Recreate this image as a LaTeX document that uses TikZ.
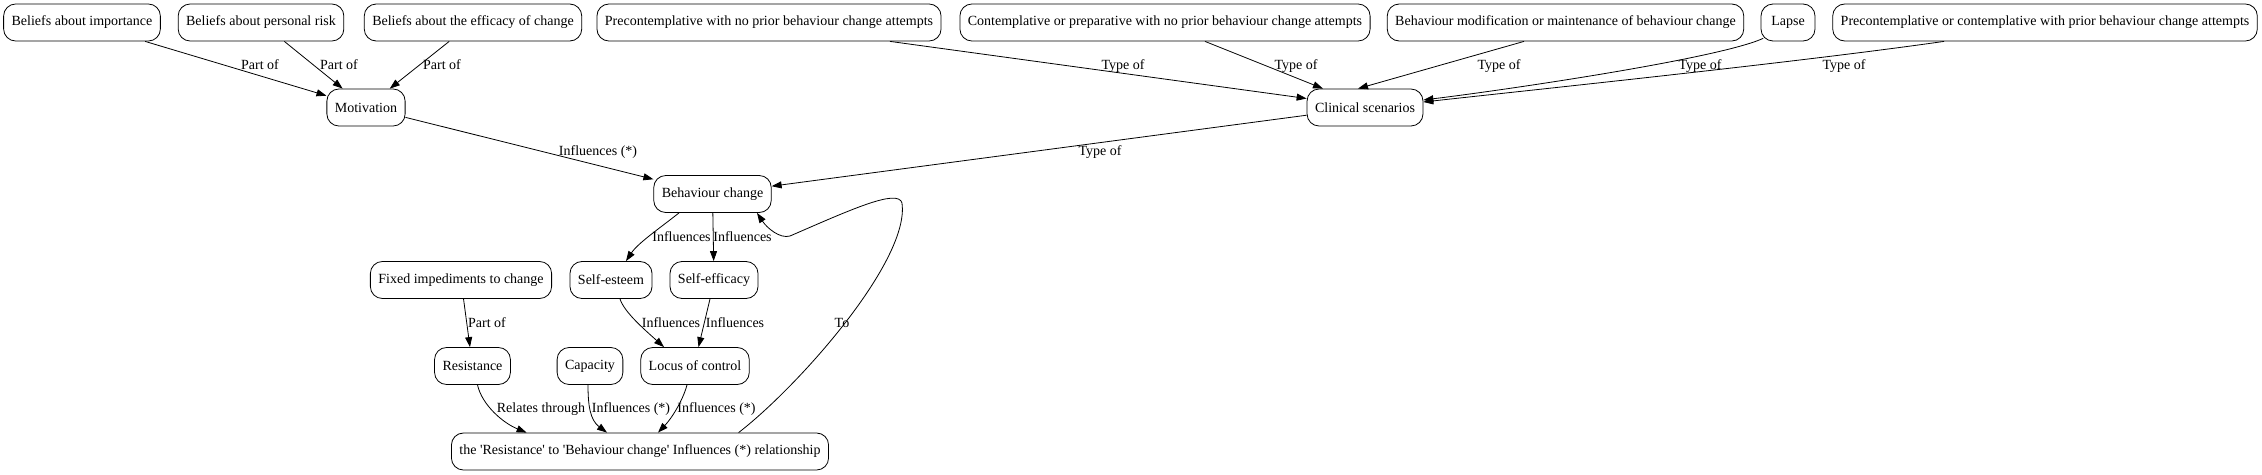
\documentclass[tikz,border=0pt]{standalone}
\usepackage{fontspec}
\setmainfont{Liberation Serif}[Ligatures=TeXOff]
\usetikzlibrary{arrows.meta}
\tikzset{
  box/.style={draw, rounded corners=12pt, minimum height=37pt, minimum width=54pt,
    inner xsep=8pt, inner ysep=0pt, font=\fontsize{14}{16}\selectfont, line width=0.8pt},
  lbl/.style={inner sep=0pt, font=\fontsize{14}{16}\selectfont},
  edge/.style={-{Triangle[length=10pt,width=7pt]}, line width=0.8pt}
}
\begin{document}
\begin{tikzpicture}[x=1pt,y=-1pt]
\useasboundingbox (0,0) rectangle (2262,474);
% row 1
\node[box] (imp)  at (82,22.5)   {Beliefs about importance};
\node[box] (risk) at (261,22.5)  {Beliefs about personal risk};
\node[box] (eff)  at (473,22.5)  {Beliefs about the efficacy of change};
\node[box] (pnp)  at (769,22.5)  {Precontemplative with no prior behaviour change attempts};
\node[box] (cont) at (1165,22.5) {Contemplative or preparative with no prior behaviour change attempts};
\node[box] (bmod) at (1565.5,22.5) {Behaviour modification or maintenance of behaviour change};
\node[box] (lapse) at (1788,22.5) {Lapse};
\node[box] (pcp)  at (2045,22.5) {Precontemplative or contemplative with prior behaviour change attempts};
% row 2
\node[box] (mot) at (366,107.5)  {Motivation};
\node[box] (cs)  at (1365,107.5) {Clinical scenarios};
% row 3
\node[box] (bc) at (712.5,194) {Behaviour change};
% row 4
\node[box] (fix)  at (461,280) {Fixed impediments to change};
\node[box] (sest) at (611,280) {Self-esteem};
\node[box] (seff) at (714,280) {Self-efficacy};
% row 5
\node[box] (res) at (472.5,366) {Resistance};
\node[box] (cap) at (590,366)   {Capacity};
\node[box] (loc) at (695,366)   {Locus of control};
% row 6
\node[box] (rel) at (640,451.5) {the 'Resistance' to 'Behaviour change' Influences (*) relationship};

% edges row1 -> motivation
\draw[edge] (imp) -- (mot);
\draw[edge] (risk) -- (mot);
\draw[edge] (eff) -- (mot);
% edges -> clinical scenarios
\draw[edge] ([xshift=121pt]pnp.south) -- ([yshift=9pt]cs.west);
\draw[edge] ([xshift=40pt]cont.south) -- ([xshift=-42pt]cs.north);
\draw[edge] ([xshift=-41.5pt]bmod.south) -- ([xshift=-7pt]cs.north);
\draw[edge] ([shift={(2.5pt,3pt)}]lapse.south west) .. controls (1720,58) and (1520,88) .. ([yshift=7.5pt]cs.east);
\draw[edge] ([xshift=-101pt]pcp.south) .. controls (1800,62) and (1550,88) .. ([yshift=5.5pt]cs.east);
% -> behaviour change
\draw[edge] (mot) -- (bc);
\draw[edge] (cs) -- (bc);
% behaviour change -> row 4
\draw[edge] ([xshift=-33.5pt]bc.south) .. controls (660,228) and (638,243) .. ([xshift=15pt]sest.north);
\draw[edge] (bc) -- (seff);
% row 4 -> row 5
\draw[edge] (fix) -- (res);
\draw[edge] ([xshift=9pt]sest.south) .. controls (624,312) and (645,330) .. ([xshift=-31pt]loc.north);
\draw[edge] ([xshift=-4pt]seff.south) -- ([xshift=3.5pt]loc.north);
% row 5 -> rel
\draw[edge] ([xshift=5pt]res.south) .. controls (482,405) and (503,423) .. ([xshift=-113.4pt]rel.north);
\draw[edge] ([xshift=-2pt]cap.south) .. controls (588,405) and (590,420) .. ([xshift=-33pt]rel.north);
\draw[edge] ([xshift=-8pt]loc.south) .. controls (683,400) and (672,418) .. ([xshift=18pt]rel.north);
% rel -> behaviour change
\draw[edge] ([xshift=98.6pt]rel.north) .. controls (800,385) and (910,260) .. (902,203)
  .. controls (898,188) and (850,210) .. (790,236)
  .. controls (780,239) and (767,228) .. ([xshift=44.5pt]bc.south);

% labels
\node[lbl] (l1) at (260,65) {Part of};
\node[lbl] (l2) at (339,65) {Part of};
\node[lbl] (l3) at (442,65) {Part of};
\node[lbl] (l4) at (1123,66) {Type of};
\node[lbl] (l5) at (1296,66) {Type of};
\node[lbl] (l6) at (1499,66) {Type of};
\node[lbl] (l7) at (1700,66) {Type of};
\node[lbl] (l8) at (1844,66) {Type of};
\node[lbl] (l9) at (598,152) {Influences (*)};
\node[lbl] (l10) at (1100,152) {Type of};
\node[lbl] (l11) at (681.5,237) {Influences};
\node[lbl] (l12) at (742.5,237) {Influences};
\node[lbl] (l13) at (487,323) {Part of};
\node[lbl] (l14) at (671,323) {Influences};
\node[lbl] (l15) at (735,323) {Influences};
\node[lbl] (l16) at (842,323) {To};
\node[lbl] (l17) at (541,409) {Relates through};
\node[lbl] (l18) at (631,409) {Influences (*)};
\node[lbl] (l19) at (716.5,409) {Influences (*)};
\end{tikzpicture}
\end{document}
